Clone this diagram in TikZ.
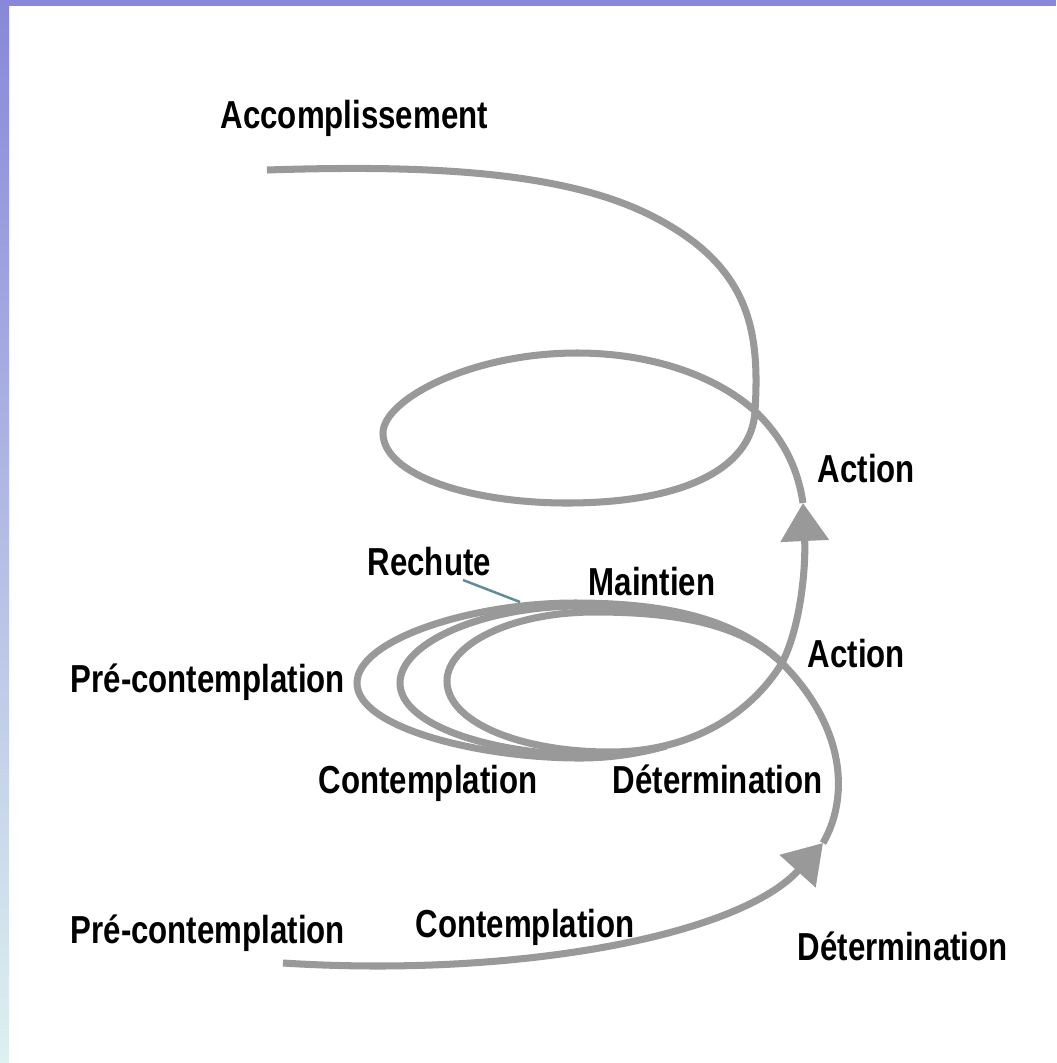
\documentclass[tikz,border=0pt]{standalone}
\usepackage{fontspec}
\usepackage{tikz}
\usetikzlibrary{arrows.meta}
\newfontfamily\stagefont[FakeStretch=0.8]{Liberation Sans}
\definecolor{spiralgray}{RGB}{153,153,153}
\definecolor{leadergray}{RGB}{95,140,150}
\definecolor{bandtop}{RGB}{136,136,216}
\definecolor{bandbottom}{RGB}{222,240,240}

\begin{document}
\begin{tikzpicture}[x=0.01cm, y=-0.01cm,
    spiral/.style={line width=2pt, spiralgray},
    bigtip/.style={-{Triangle[length=0.38cm, width=0.47cm]}},
    stage/.style={font=\stagefont\bfseries\fontsize{11.1}{13}\selectfont, anchor=base west, inner sep=0pt}]
        \useasboundingbox (0,0) rectangle (1056,1063);
        \fill[white] (0,0) rectangle (1056,1063);
        \shade[top color=bandtop, bottom color=bandbottom] (0,0) rectangle (9,1063);
        \fill[bandtop] (0,0) rectangle (1056,6);

        \coordinate (S) at (283,963);
        \coordinate (T1) at (823,843);
        \coordinate (X1) at (782,663);
        \coordinate (T2) at (803,503);
        \coordinate (X2) at (755,411);
        \coordinate (E) at (267,170);
        \coordinate (M) at (666,746);
        \coordinate (R1) at (463,580);
        \coordinate (R2) at (520,602);

        % lower turn
        \draw[spiral, bigtip] (S) .. controls (520,978) and (740,935) .. (T1);
        \draw[spiral, bigtip] (T1) .. controls (848,800) and (848,730) .. (X1)
            .. controls (740,622) and (670,612) .. (595,612)
            .. controls (510,612) and (447,645) .. (447,681)
            .. controls (447,722) and (520,752) .. (610,752)
            .. controls (690,752) and (750,715) .. (X1)
            .. controls (800,628) and (806,570) .. (T2);
        \draw[spiral] (X1) .. controls (737,620) and (667,606) .. (580,606)
            .. controls (485,606) and (400,642) .. (400,683)
            .. controls (400,726) and (495,755) .. (590,755)
            .. controls (620,755) and (645,751) .. (M);
        \draw[spiral] (X1) .. controls (735,618) and (665,603) .. (575,603)
            .. controls (470,603) and (357,640) .. (357,683)
            .. controls (357,728) and (480,758) .. (580,758)
            .. controls (615,758) and (645,752) .. (M);

        % upper turn
        \draw[spiral] (T2) .. controls (798,470) and (785,440) .. (X2)
            .. controls (715,375) and (650,353) .. (577,353)
            .. controls (470,353) and (383,400) .. (383,433)
            .. controls (383,475) and (470,503) .. (567,503)
            .. controls (680,503) and (752,470) .. (X2)
            .. controls (760,330) and (750,265) .. (650,215)
            .. controls (560,170) and (420,165) .. (E);

        \draw[leadergray, line width=0.7pt] (R1) -- (R2);

        \node[stage] (acc) at (220,128) {Accomplissement};
        \node[stage] (act1) at (817,482) {Action};
        \node[stage] (rech) at (367,575) {Rechute};
        \node[stage] (maint) at (588,595) {Maintien};
        \node[stage] (pre1) at (70,692) {Pré-contemplation};
        \node[stage] (act2) at (807,667) {Action};
        \node[stage] (cont1) at (318,793) {Contemplation};
        \node[stage] (det1) at (612,793) {Détermination};
        \node[stage] (pre2) at (70,943) {Pré-contemplation};
        \node[stage] (cont2) at (415,937) {Contemplation};
        \node[stage] (det2) at (797,960) {Détermination};
\end{tikzpicture}
\end{document}
